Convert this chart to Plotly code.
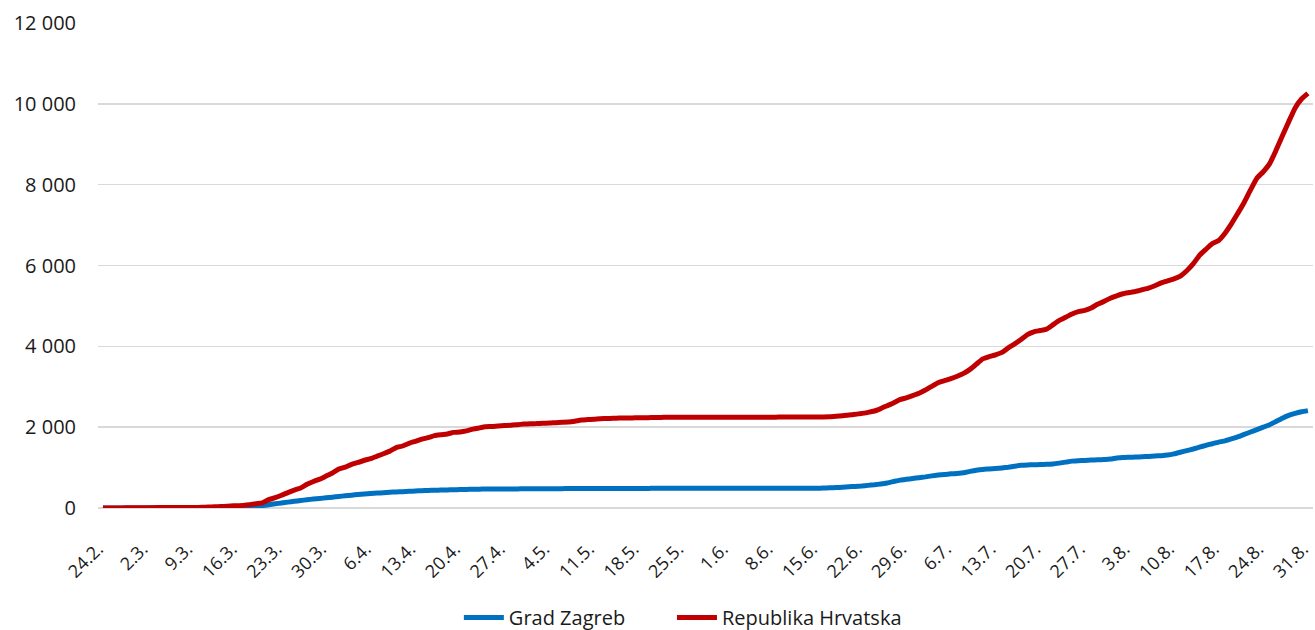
import pandas as pd
import plotly.graph_objects as go

# Categories: daily dates 24.2. - 31.8. (2020)
dates = pd.date_range("2020-02-24", "2020-08-31", freq="D")
day_labels = [f"{d.day}.{d.month}." for d in dates]
tick_labels = day_labels[::7]

y_tick_vals = [0, 2000, 4000, 6000, 8000, 10000, 12000]
y_tick_text = ["0", "2 000", "4 000", "6 000", "8 000", "10 000", "12 000"]

grad_zagreb = [
    0, 1, 1, 1, 2, 3, 3, 3, 4, 4, 4, 5, 5, 5, 5, 6, 8, 11, 13, 15,
    19, 22, 26, 33, 45, 60, 80, 104, 125, 145, 165, 185, 205, 222, 237, 252, 268, 285, 302, 318,
    333, 348, 360, 370, 378, 388, 398, 405, 412, 420, 428, 435, 440, 444, 448, 452, 456, 460, 463, 466,
    468, 469, 470, 471, 472, 473, 474, 475, 476, 477, 478, 479, 479, 480, 480, 481, 481, 482, 482, 483,
    483, 484, 484, 485, 485, 485, 486, 486, 486, 486, 486, 486, 487, 487, 487, 487, 487, 487, 487, 487,
    487, 487, 487, 487, 487, 487, 487, 487, 487, 487, 488, 489, 490, 493, 498, 505, 515, 525, 535, 545,
    560, 575, 595, 620, 655, 690, 710, 730, 750, 770, 795, 815, 830, 845, 855, 870, 905, 935, 955, 965,
    975, 990, 1010, 1035, 1055, 1065, 1070, 1075, 1082, 1090, 1110, 1135, 1160, 1170, 1178, 1185, 1192, 1200, 1210, 1235,
    1250, 1255, 1260, 1268, 1276, 1285, 1295, 1310, 1340, 1380, 1420, 1460, 1505, 1550, 1590, 1630, 1660, 1710, 1760, 1820,
    1880, 1940, 2000, 2060, 2140, 2220, 2290, 2340, 2380, 2410,
]

republika_hrvatska = [
    0, 1, 3, 3, 5, 7, 7, 7, 9, 10, 10, 11, 12, 12, 12, 14, 19, 27, 32, 38,
    49, 57, 65, 81, 105, 128, 206, 254, 315, 382, 442, 495, 586, 657, 713, 790, 867, 963, 1011, 1079,
    1126, 1182, 1222, 1282, 1343, 1407, 1495, 1534, 1600, 1650, 1704, 1741, 1791, 1814, 1832, 1871, 1881, 1908, 1950, 1981,
    2009, 2016, 2030, 2039, 2047, 2062, 2076, 2085, 2088, 2096, 2101, 2112, 2119, 2125, 2146, 2176, 2187, 2196, 2209, 2213,
    2221, 2224, 2226, 2228, 2232, 2234, 2237, 2239, 2243, 2244, 2244, 2244, 2245, 2245, 2246, 2246, 2246, 2246, 2247, 2247,
    2247, 2247, 2247, 2247, 2247, 2247, 2249, 2249, 2249, 2249, 2251, 2251, 2252, 2254, 2258, 2269, 2282, 2300, 2317, 2340,
    2366, 2400, 2460, 2530, 2600, 2680, 2725, 2780, 2840, 2920, 3010, 3100, 3150, 3200, 3260, 3330, 3430, 3560, 3690, 3745,
    3790, 3850, 3960, 4060, 4170, 4290, 4360, 4390, 4425, 4530, 4640, 4720, 4800, 4860, 4890, 4950, 5040, 5110, 5190, 5250,
    5300, 5330, 5360, 5400, 5440, 5500, 5570, 5620, 5670, 5740, 5870, 6040, 6250, 6400, 6540, 6620, 6800, 7030, 7290, 7560,
    7870, 8160, 8320, 8520, 8850, 9210, 9560, 9900, 10120, 10260,
]

FONT = "'Open Sans', 'Noto Sans', Arial, sans-serif"
TXT = "#1a1a1a"

fig = go.Figure()
fig.add_trace(go.Scatter(
    x=day_labels, y=grad_zagreb, mode="lines", name="Grad Zagreb",
    line=dict(color="#0070C0", width=5, shape="spline", smoothing=0.5),
    legend="legend",
))
fig.add_trace(go.Scatter(
    x=day_labels, y=republika_hrvatska, mode="lines", name="Republika Hrvatska",
    line=dict(color="#C00000", width=5, shape="spline", smoothing=0.5),
    legend="legend2",
))

legend_common = dict(
    orientation="h", xanchor="left", y=-0.226, yanchor="middle",
    font=dict(family=FONT, size=20, color=TXT), itemwidth=40,
    bgcolor="rgba(0,0,0,0)",
)

fig.update_layout(
    width=1315, height=630,
    margin=dict(l=98, r=2, t=23, b=122, autoexpand=False),
    paper_bgcolor="white", plot_bgcolor="white",
    font=dict(family=FONT, size=20, color=TXT),
    showlegend=True,
    legend=dict(x=0.297, **legend_common),
    legend2=dict(x=0.4724, **legend_common),
    hovermode=False,
)
fig.update_xaxes(
    type="category", categoryorder="array", categoryarray=day_labels,
    tickmode="array", tickvals=tick_labels, ticktext=tick_labels,
    tickangle=-45, range=[-0.78, 189.8], automargin=False,
    showgrid=False, zeroline=False, showline=False, ticks="",
    ticklabelstandoff=26, ticklabelshift=-5,
    tickfont=dict(family=FONT, size=18, color=TXT),
)
fig.update_yaxes(
    range=[0, 12000], tickmode="array", tickvals=y_tick_vals, ticktext=y_tick_text,
    showgrid=True, gridcolor="#d9d9d9", gridwidth=1.5, automargin=False,
    zeroline=True, zerolinecolor="#d9d9d9", zerolinewidth=1.5,
    showline=False, ticks="", ticklabelstandoff=21,
    tickfont=dict(family=FONT, size=20, color=TXT),
)

fig.write_html(
    "out.html",
    config={"displayModeBar": False, "staticPlot": True},
    post_script="document.body.style.margin='0';document.body.style.overflow='hidden';",
)
